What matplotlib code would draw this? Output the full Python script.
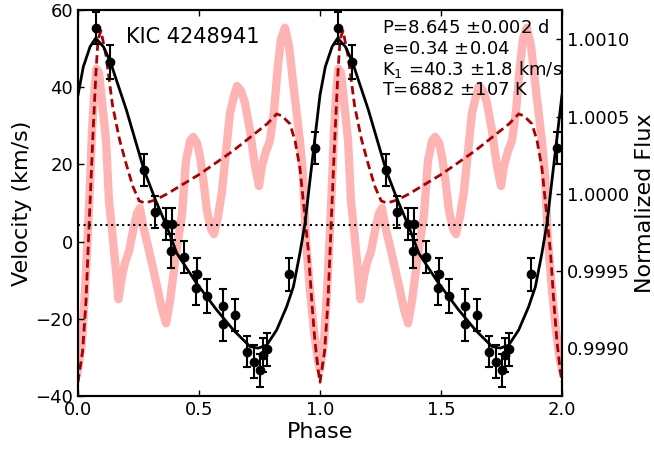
import numpy as np
import matplotlib
matplotlib.use('Agg')
import matplotlib.pyplot as plt
from matplotlib.ticker import FormatStrFormatter

# radial velocity measurements (one orbit, shown twice)
rv_phase = [0.073, 0.134, 0.273, 0.320, 0.362, 0.388, 0.383, 0.437, 0.490, 0.486, 0.531,
            0.600, 0.600, 0.650, 0.698, 0.727, 0.752, 0.766, 0.779, 0.873, 0.979]
rv_vel = [55.3, 46.5, 18.5, 7.7, 4.5, 4.5, -2.5, -4.0, -8.4, -12.1, -14.1,
          -16.7, -21.3, -19.0, -28.5, -31.1, -33.3, -29.4, -27.9, -8.5, 24.3]
rv_err = [4.2, 4.5, 4.1, 4.2, 4.1, 4.1, 4.4, 4.2, 4.1, 4.2, 4.3,
          4.4, 4.5, 4.2, 4.0, 4.2, 4.3, 4.4, 4.3, 4.3, 4.1]

# orbit model
model_phase = [0.000, 0.022, 0.050, 0.073, 0.105, 0.134, 0.200, 0.273, 0.320, 0.367, 0.408,
               0.490, 0.573, 0.642, 0.711, 0.745, 0.780, 0.821, 0.862, 0.890, 0.917,
               0.938, 0.955, 0.970, 0.985, 1.000]
model_vel = [38.0, 45.3, 50.5, 52.7, 50.5, 46.5, 34.1, 18.5, 10.8, 3.9, -3.0,
             -10.8, -17.7, -22.9, -27.2, -27.6, -26.8, -22.9, -16.9, -11.7, -3.0,
             4.7, 14.0, 22.0, 30.0, 38.0]
gamma = 4.3

# heartbeat light curve model
hb_phase = [0.000, 0.019, 0.033, 0.047, 0.061, 0.074, 0.083, 0.095, 0.116, 0.143, 0.171,
            0.198, 0.226, 0.253, 0.277, 0.318, 0.367, 0.504, 0.640, 0.781, 0.821,
            0.843, 0.876, 0.897, 0.917, 0.931, 0.952, 0.966, 0.979, 0.993, 1.000]
hb_flux = [0.998779, 0.998980, 0.999304, 0.999842, 1.000355, 1.000783, 1.001003, 1.001055,
           1.000893, 1.000569, 1.000355, 1.000199, 1.000050, 0.999953, 0.999940, 0.999959,
           0.999998, 1.000128, 1.000277, 1.000452, 1.000517, 1.000504, 1.000452, 1.000342,
           1.000167, 0.999953, 0.999628, 0.999304, 0.999045, 0.998850, 0.998779]

# Kepler phased light curve
lc_phase = [0.000, 0.017, 0.029, 0.041, 0.050, 0.058, 0.066, 0.076, 0.087, 0.103, 0.116,
            0.128, 0.143, 0.157, 0.167, 0.182, 0.194, 0.211, 0.227, 0.244, 0.256,
            0.269, 0.289, 0.310, 0.331, 0.347, 0.364, 0.380, 0.397, 0.413, 0.430,
            0.446, 0.463, 0.476, 0.492, 0.504, 0.521, 0.533, 0.550, 0.562, 0.579,
            0.595, 0.612, 0.628, 0.645, 0.657, 0.674, 0.690, 0.711, 0.731, 0.748,
            0.760, 0.777, 0.793, 0.810, 0.826, 0.839, 0.855, 0.872, 0.888, 0.905,
            0.917, 0.930, 0.942, 0.959, 0.975, 0.992, 1.000]
lc_flux = [0.998863, 0.999045, 0.999369, 0.999758, 1.000082, 1.000407, 1.000634, 1.000809,
           1.000783, 1.000536, 1.000342, 0.999953, 0.999726, 0.999499, 0.999317, 0.999466,
           0.999551, 0.999628, 0.999758, 0.999875, 0.999907, 0.999791, 0.999661, 0.999518,
           0.999369, 0.999252, 0.999161, 0.999304, 0.999512, 0.999693, 0.999868, 1.000212,
           1.000342, 1.000368, 1.000329, 1.000244, 1.000050, 0.999888, 0.999771, 0.999739,
           0.999855, 1.000018, 1.000277, 1.000523, 1.000634, 1.000698, 1.000666, 1.000588,
           1.000407, 1.000180, 1.000050, 1.000180, 1.000277, 1.000342, 1.000536, 1.000828,
           1.001003, 1.001075, 1.000958, 1.000731, 1.000504, 1.000342, 1.000115, 0.999693,
           0.999369, 0.999110, 0.998915, 0.998863]

labels = ['P=8.645 $\\pm$0.002 d', 'e=0.34 $\\pm$0.04',
          'K$_1$ =40.3 $\\pm$1.8 km/s', 'T=6882 $\\pm$107 K']


def twice(p, v):
    p = np.asarray(p)
    return np.concatenate([p, p + 1]), np.concatenate([v, v])


plt.rcParams['xtick.direction'] = 'in'
plt.rcParams['ytick.direction'] = 'in'
plt.rcParams['xtick.major.size'] = 4
plt.rcParams['ytick.major.size'] = 4
plt.rcParams['axes.linewidth'] = 1.5

fig = plt.figure(figsize=(6.54, 4.49), dpi=100)
ax = fig.add_axes([78 / 654, 1 - 396 / 449, 484 / 654, 386 / 449])
ax2 = ax.twinx()
ax.set_zorder(ax2.get_zorder() + 1)
ax.patch.set_visible(False)

x, y = twice(lc_phase, lc_flux)
ax2.plot(x, y, color='#ffb4b4', lw=6, solid_joinstyle='round')
x, y = twice(hb_phase, hb_flux)
ax2.plot(x, y, color='#aa0000', lw=2, dashes=(3, 1.6))
ax2.set_ylim(0.99869, 1.00119)
ax2.set_yticks([0.9990, 0.9995, 1.0000, 1.0005, 1.0010])
ax2.yaxis.set_major_formatter(FormatStrFormatter('%.4f'))
ax2.tick_params(labelsize=13, width=1)
ax2.set_ylabel('Normalized Flux', fontsize=16)

ax.axhline(gamma, color='k', ls=':', lw=1.5)
x, y = twice(model_phase, model_vel)
ax.plot(x, y, color='k', lw=2)
x, y = twice(rv_phase, rv_vel)
_, e = twice(rv_phase, rv_err)
ax.errorbar(x, y, yerr=e, fmt='o', color='k', ms=6, elinewidth=1.5, capsize=3, capthick=1.5)

ax.set_xlim(0, 2)
ax.set_ylim(-40, 60)
ax.set_xticks([0.0, 0.5, 1.0, 1.5, 2.0])
ax.set_yticks([-40, -20, 0, 20, 40, 60])
ax.tick_params(labelsize=13, top=True, width=1)
ax.set_xlabel('Phase', fontsize=16, labelpad=2)
ax.set_ylabel('Velocity (km/s)', fontsize=16, labelpad=2)

ax.text(0.1, 0.93, 'KIC 4248941', transform=ax.transAxes, fontsize=15, va='center')
for i, t in enumerate(labels):
    ax.text(0.629, 0.953 - i * 0.0535, t, transform=ax.transAxes, fontsize=13, va='center')

plt.savefig('out.png', dpi=100)
